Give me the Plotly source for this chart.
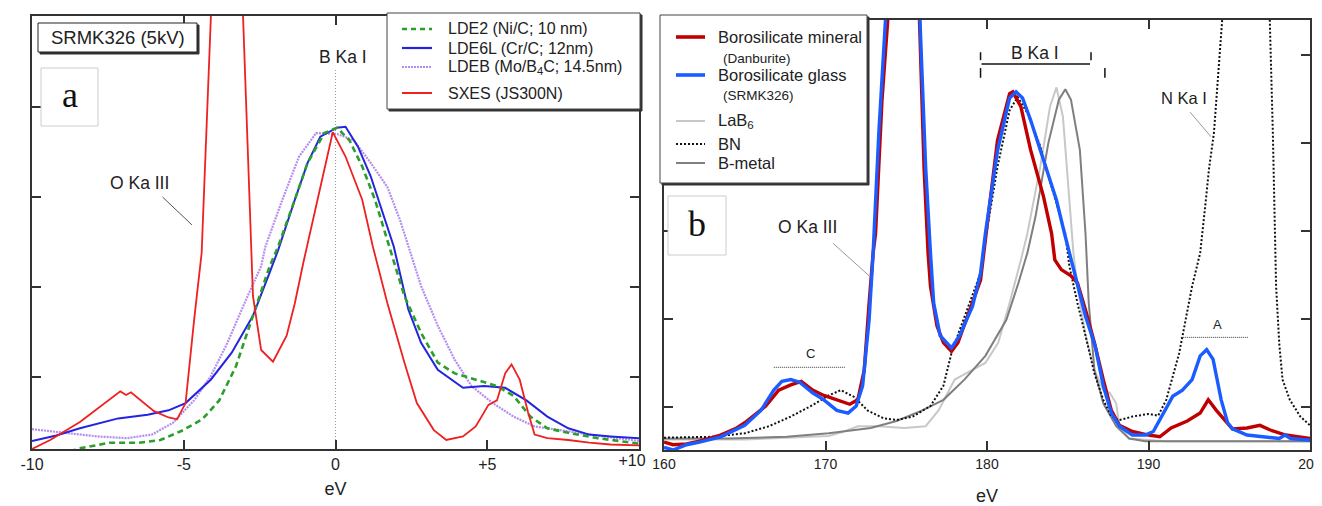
import plotly.graph_objects as go

# The page body has an 8 px margin, so the figure is drawn 8 px in from the window's corner.
OFF = 8
W, H = 1322 - OFF, 506 - OFF

# ---------------- panel (a) data : energy offset (eV) vs intensity (a.u.) ----------------
lde2_x = [-9.0, -8.54, -7.44, -6.47, -5.77, -5.08, -4.39, -3.83, -3.28, -2.86, -2.58, -2.17, -1.89, -1.34,
          -0.92, -0.37, 0.05, 0.46, 0.88, 1.3, 1.71, 1.85, 2.27, 2.82, 3.37, 3.93, 4.62, 5.32, 5.87, 6.42,
          6.98, 7.67, 8.64, 10]
lde2_y = [-0.1, 0.0, 0.07, 0.07, 0.1, 0.2, 0.33, 0.54, 0.92, 1.33, 1.62, 2.03, 2.25, 2.77,
          3.18, 3.51, 3.57, 3.43, 3.14, 2.77, 2.32, 2.18, 1.7, 1.29, 0.96, 0.84, 0.77, 0.70, 0.59, 0.36,
          0.23, 0.18, 0.12, 0.06]

lde6l_x = [-10, -9.2, -8.42, -7.43, -7.16, -6.19, -5.5, -4.94, -4.11, -3.42, -2.72, -2.17, -1.89, -1.34,
           -0.92, -0.5, 0.05, 0.33, 0.74, 1.16, 1.57, 1.92, 2.4, 2.82, 3.37, 4.2, 4.9, 5.59, 6.29, 6.98,
           7.67, 8.36, 9.06, 10]
lde6l_y = [0.09, 0.15, 0.23, 0.32, 0.34, 0.38, 0.43, 0.51, 0.77, 1.07, 1.48, 1.96, 2.21, 2.77,
           3.18, 3.47, 3.57, 3.58, 3.36, 3.03, 2.62, 2.25, 1.55, 1.18, 0.88, 0.68, 0.70, 0.68, 0.54, 0.36,
           0.23, 0.16, 0.14, 0.12]

ldeb_x = [-10, -8.96, -7.85, -6.88, -6.05, -5.36, -4.66, -4.11, -3.56, -3.0, -2.45, -2.31, -1.75, -1.2,
          -0.64, 0.05, 0.6, 1.16, 1.71, 2.13, 2.47, 2.82, 3.37, 3.93, 4.48, 5.18, 5.87, 6.56, 7.4, 8.36, 10]
ldeb_y = [0.22, 0.18, 0.14, 0.12, 0.16, 0.29, 0.54, 0.81, 1.18, 1.62, 2.03, 2.25, 2.77, 3.25,
          3.51, 3.5, 3.43, 3.18, 2.91, 2.54, 2.18, 1.81, 1.37, 0.99, 0.70, 0.51, 0.36, 0.25, 0.21, 0.16, 0.09]

sxes_x = [-10, -9.4, -8.42, -7.76, -7.09, -6.9, -6.74, -5.98, -5.5, -5.22, -4.94, -4.66, -4.41, -3.55,
          -2.79, -2.72, -2.45, -2.06, -1.61, -1.34, -1.06, -0.5, -0.09, 0.33, 0.88, 1.23, 1.71, 2.27,
          2.68, 3.24, 3.65, 4.2, 4.62, 5.04, 5.32, 5.59, 5.8, 6.07, 6.35, 6.56, 6.98, 7.67, 8.36, 9.06, 10]
sxes_y = [0.0, 0.1, 0.3, 0.47, 0.64, 0.6, 0.63, 0.42, 0.35, 0.33, 0.51, 1.43, 2.18, 9.6,
          2.18, 1.7, 1.1, 0.97, 1.26, 1.62, 2.07, 2.91, 3.52, 3.25, 2.77, 2.25, 1.62, 0.96,
          0.51, 0.21, 0.1, 0.14, 0.25, 0.49, 0.54, 0.84, 0.94, 0.77, 0.40, 0.16, 0.12, 0.1, 0.07, 0.05, 0.04]

# ---------------- panel (b) data : emission energy (eV) vs intensity (a.u.) ----------------
mineral_x = [160, 160.56, 161.4, 162.2, 163.5, 164.5, 165.0, 166.3, 167.1, 167.85, 168.5, 169.2, 169.9,
             170.7, 171.5, 172.0, 172.4, 172.7, 172.95, 173.1, 173.5, 173.9, 174.4, 174.85, 175.3, 175.8,
             176.1, 176.35, 176.5, 176.9, 177.3, 177.8, 178.2, 178.8, 179.6, 179.9, 180.65, 181.4, 181.6,
             182.1, 182.7, 183.5, 184.0, 184.2, 184.6, 185.2, 185.6, 186.1, 186.65, 187.2, 187.7, 188.2,
             189.0, 190.0, 190.7, 191.4, 192.4, 193.2, 193.7, 194.2, 194.85, 195.2, 196.1, 196.9, 197.5,
             198.5, 200]
mineral_y = [0.09, 0.06, 0.07, 0.10, 0.17, 0.25, 0.31, 0.50, 0.68, 0.74, 0.78, 0.68, 0.62,
             0.57, 0.52, 0.57, 0.91, 1.67, 2.24, 2.46, 3.98, 5.0, 7.5, 8.5, 7.5, 5.0,
             3.22, 2.24, 1.86, 1.41, 1.22, 1.12, 1.22, 1.52, 1.93, 2.39, 3.52, 4.05, 4.07,
             3.9, 3.41, 2.88, 2.46, 2.16, 2.05, 1.98, 1.9, 1.59, 1.22, 0.8, 0.45, 0.28,
             0.21, 0.17, 0.15, 0.25, 0.33, 0.42, 0.57, 0.45, 0.31, 0.24, 0.25, 0.28, 0.23,
             0.17, 0.13]

glass_x = [160, 160.56, 161.4, 162.2, 163.5, 164.5, 165.0, 166.0, 166.8, 167.3, 167.85, 168.4, 169.2,
           169.9, 170.7, 171.4, 171.9, 172.3, 172.7, 172.95, 173.3, 173.75, 174.3, 174.8, 175.3, 175.85,
           176.2, 176.5, 176.7, 177.1, 177.8, 178.3, 179.1, 179.6, 179.9, 180.65, 181.4, 181.8, 182.2,
           182.7, 183.5, 184.3, 184.8, 185.2, 185.6, 186.1, 186.7, 187.2, 187.7, 188.2, 189.0, 189.8,
           190.3, 190.8, 191.5, 192.1, 192.7, 193.2, 193.6, 194.0, 194.5, 194.9, 195.2, 196.1, 197.3,
           198.1, 198.45, 198.8, 200]
glass_y = [0.03, 0.0, 0.06, 0.09, 0.15, 0.23, 0.28, 0.45, 0.68, 0.78, 0.80, 0.77, 0.65,
           0.57, 0.45, 0.42, 0.50, 0.73, 1.48, 2.24, 3.6, 5.0, 7.5, 8.5, 7.5, 5.0,
           3.22, 2.24, 1.67, 1.3, 1.16, 1.3, 1.63, 2.01, 2.46, 3.4, 4.0, 4.07, 4.0,
           3.75, 3.3, 2.84, 2.46, 2.16, 1.86, 1.52, 1.18, 0.73, 0.42, 0.27, 0.17, 0.17,
           0.21, 0.38, 0.61, 0.68, 0.8, 1.07, 1.14, 1.03, 0.57, 0.31, 0.24, 0.17, 0.15,
           0.13, 0.17, 0.13, 0.11]

lab6_x = [160, 165, 170.2, 171.0, 172.0, 173.3, 174.9, 176.2, 177.0, 178.0, 179.1, 179.9, 180.7, 181.4,
          182.1, 182.5, 183.3, 183.9, 184.3, 184.7, 185.1, 185.35, 185.6, 186.1, 186.65, 187.2, 187.6,
          188.0, 188.2, 188.8, 191.1, 200]
lab6_y = [0.12, 0.12, 0.16, 0.2, 0.27, 0.27, 0.25, 0.27, 0.45, 0.8, 0.91, 0.99, 1.22, 1.67,
          2.16, 2.46, 3.22, 3.9, 4.12, 3.79, 2.84, 2.24, 1.86, 1.3, 0.91, 0.68, 0.65,
          0.53, 0.27, 0.13, 0.1, 0.1]

bn_x = [160, 163, 165.0, 166.5, 167.85, 169.2, 170.2, 170.95, 171.8, 172.6, 173.6, 174.4, 175.4, 176.5,
        177.3, 177.8, 178.3, 179.1, 179.6, 179.9, 180.65, 181.4, 181.9, 182.5, 183.3, 184.0, 184.85, 185.1,
        185.6, 186.1, 186.65, 187.2, 187.7, 188.2, 189.0, 190.0, 190.6, 191.1, 191.9, 192.7, 193.2, 193.5,
        193.75, 194.05, 194.55, 195.3, 196.0, 196.8, 197.5, 197.7, 197.9, 198.1, 198.3, 198.75, 199.4, 200]
bn_y = [0.14, 0.15, 0.19, 0.27, 0.38, 0.51, 0.62, 0.68, 0.6, 0.45, 0.36, 0.34, 0.38, 0.5,
        0.73, 1.1, 1.36, 1.75, 2.01, 2.39, 3.22, 3.86, 4.01, 3.83, 3.45, 2.99, 2.46, 2.09,
        1.67, 1.3, 0.87, 0.57, 0.38, 0.34, 0.38, 0.41, 0.39, 0.57, 1.1, 1.86, 2.24, 2.75,
        3.2, 3.6, 4.95, 7.5, 8.5, 7.5, 4.95, 3.6, 1.86, 1.2, 0.8, 0.57, 0.38, 0.28]

bmetal_x = [160, 164, 167.6, 170.2, 172.8, 174.4, 176.0, 177.3, 178.6, 179.9, 181.2, 181.95, 182.5, 183.0,
            183.8, 184.45, 184.85, 185.2, 185.75, 186.1, 186.3, 186.65, 187.2, 188.0, 188.8, 189.8, 200]
bmetal_y = [0.13, 0.13, 0.15, 0.19, 0.25, 0.33, 0.45, 0.57, 0.8, 1.07, 1.48, 1.9, 2.24, 2.65,
            3.49, 3.98, 4.1, 3.98, 3.41, 2.46, 1.67, 0.91, 0.53, 0.27, 0.13, 0.1, 0.1]

a_ticks = [-10, -5, 0, 5]
a_ticktext = ["-10", "-5", "0", "+5"]      # "+10" is drawn slightly left of the axis end (see xaxis3)
b_ticks = [160, 170, 180, 190, 200]
b_ticktext = ["160", "170", "180", "190", "200"]

FONT = "Liberation Sans, Arial, sans-serif"
SERIF = "Liberation Serif, Times New Roman, serif"
TXT = "#222222"
AX = "#333333"

C_GREEN, C_BLUE, C_VIOLET, C_RED = "#2a9f2a", "#2424e0", "#b58cf0", "#ee2020"
C_MIN, C_GLASS, C_LAB6, C_BN, C_BM = "#c00000", "#1a5cff", "#c8c8c8", "#111111", "#7f7f7f"


def PX(x):
    """window pixel x -> paper fraction"""
    return (x - OFF) / W


def PY(y):
    """window pixel y -> paper fraction"""
    return 1 - (y - OFF) / H


fig = go.Figure()


def add_line(x, y, color, width, dash, panel):
    fig.add_trace(go.Scatter(
        x=x, y=y, mode="lines",
        line=dict(color=color, width=width, dash=dash),
        xaxis="x" if panel == 1 else "x2", yaxis="y" if panel == 1 else "y2",
        showlegend=False, hoverinfo="skip"))


add_line(ldeb_x, ldeb_y, C_VIOLET, 2.2, "2px,1px", 1)
add_line(lde6l_x, lde6l_y, C_BLUE, 2, "solid", 1)
add_line(lde2_x, lde2_y, C_GREEN, 2.6, "6px,4px", 1)
add_line(sxes_x, sxes_y, C_RED, 1.8, "solid", 1)

add_line(lab6_x, lab6_y, C_LAB6, 2, "solid", 2)
add_line(bmetal_x, bmetal_y, C_BM, 2, "solid", 2)
add_line(bn_x, bn_y, C_BN, 2, "2px,2px", 2)
add_line(mineral_x, mineral_y, C_MIN, 3.4, "solid", 2)
add_line(glass_x, glass_y, C_GLASS, 3.4, "solid", 2)

# empty trace so the label-only overlay axis exists
fig.add_trace(go.Scatter(x=[], y=[], xaxis="x3", yaxis="y", showlegend=False, hoverinfo="skip"))

axis_common = dict(showline=True, linecolor=AX, linewidth=1.5, mirror="ticks", ticks="inside",
                   ticklen=9, tickwidth=1.5, tickcolor=AX, showgrid=False, zeroline=False)

fig.update_layout(
    width=W, height=H, margin=dict(l=0, r=0, t=0, b=0, autoexpand=False),
    showlegend=False,
    paper_bgcolor="white", plot_bgcolor="white",
    font=dict(family=FONT, color=TXT),
    xaxis=dict(domain=[PX(32), PX(639)], range=[-10, 10], tickvals=a_ticks, ticktext=a_ticktext,
               tickfont=dict(size=16, color=TXT), anchor="y", automargin=False,
               title=dict(text="eV", font=dict(size=18, color=TXT), standoff=10), **axis_common),
    xaxis3=dict(overlaying="x", anchor="y", side="bottom", range=[-10, 10], tickvals=[9.77],
                ticktext=["+10"], ticks="", showline=False, showgrid=False, zeroline=False,
                tickfont=dict(size=16, color=TXT), automargin=False),
    yaxis=dict(domain=[PY(449), PY(16)], range=[0, 433 / 90], tickvals=[0.8, 1.8, 2.8, 3.8],
               showticklabels=False, anchor="x", automargin=False, **axis_common),
    xaxis2=dict(domain=[PX(664), PX(1310)], range=[160, 200], tickvals=b_ticks, ticktext=b_ticktext,
                tickfont=dict(size=14, color=TXT), anchor="y2", automargin=False,
                title=dict(text="eV", font=dict(size=18, color=TXT), standoff=20), **axis_common),
    yaxis2=dict(domain=[PY(450), PY(20)], range=[0, 430 / 88],
                tickvals=[0.489, 1.489, 2.489, 3.489, 4.489],
                showticklabels=False, anchor="x2", automargin=False, **axis_common),
)

shapes = []
ann = []

# ---- panel (a) decorations (data coordinates) ----
shapes.append(dict(type="line", xref="x", yref="y", x0=0, x1=0, y0=0, y1=4.21,
                   line=dict(color="#999999", width=1, dash="1px,2px"), layer="below"))
shapes.append(dict(type="line", xref="x", yref="y", x0=-5.7, y0=2.8, x1=-4.73, y1=2.49,
                   line=dict(color="#555555", width=1)))
ann.append(dict(xref="x", yref="y", x=0.26, y=4.36, text="B Ka I", showarrow=False,
                font=dict(size=17.5, color=TXT)))
ann.append(dict(xref="x", yref="y", x=-6.47, y=2.96, text="O Ka III", showarrow=False,
                font=dict(size=17.5, color=TXT)))

# ---- panel (b) decorations (data coordinates) ----
shapes.append(dict(type="line", xref="x2", yref="y2", x0=170.46, y0=2.35, x1=172.7, y1=1.98,
                   line=dict(color="#999999", width=1)))
shapes.append(dict(type="line", xref="x2", yref="y2", x0=192.57, y0=3.84, x1=193.87, y1=3.56,
                   line=dict(color="#999999", width=1)))
bk = dict(color="#111111", width=1.5)
shapes += [
    dict(type="line", xref="x2", yref="y2", x0=179.66, x1=186.38, y0=4.386, y1=4.386, line=bk),
    dict(type="line", xref="x2", yref="y2", x0=179.6, x1=179.6, y0=4.43, y1=4.52, line=bk),
    dict(type="line", xref="x2", yref="y2", x0=186.44, x1=186.44, y0=4.43, y1=4.52, line=bk),
    dict(type="line", xref="x2", yref="y2", x0=179.6, x1=179.6, y0=4.23, y1=4.34, line=bk),
    dict(type="line", xref="x2", yref="y2", x0=187.3, x1=187.3, y0=4.23, y1=4.34, line=bk),
]
shapes.append(dict(type="line", xref="x2", yref="y2", x0=166.8, x1=171.25, y0=0.94, y1=0.94,
                   line=dict(color="#333333", width=1, dash="1px,1px")))
shapes.append(dict(type="line", xref="x2", yref="y2", x0=192.0, x1=196.2, y0=1.28, y1=1.28,
                   line=dict(color="#333333", width=1, dash="1px,1px")))
ann += [
    dict(xref="x2", yref="y2", x=182.97, y=4.51, text="B Ka I", showarrow=False, font=dict(size=17.5, color=TXT)),
    dict(xref="x2", yref="y2", x=168.9, y=2.53, text="O Ka III", showarrow=False, font=dict(size=17.5, color=TXT)),
    dict(xref="x2", yref="y2", x=192.2, y=4.0, text="N Ka I", showarrow=False, font=dict(size=16.5, color=TXT)),
    dict(xref="x2", yref="y2", x=169.1, y=1.1, text="C", showarrow=False, font=dict(size=13, color=TXT)),
    dict(xref="x2", yref="y2", x=194.25, y=1.43, text="A", showarrow=False, font=dict(size=13, color=TXT)),
]


# ---- paper-space boxes (legends, labels) ----
def rect(x0, y0, x1, y1, fill, color, width=1):
    shapes.append(dict(type="rect", xref="paper", yref="paper", x0=PX(x0), x1=PX(x1), y0=PY(y1), y1=PY(y0),
                       fillcolor=fill, line=dict(color=color, width=width), layer="above"))


def seg(x0, x1, y, color, width, dash="solid"):
    shapes.append(dict(type="line", xref="paper", yref="paper", x0=PX(x0), x1=PX(x1), y0=PY(y), y1=PY(y),
                       line=dict(color=color, width=width, dash=dash), layer="above"))


def text(x, y, s, size, xanchor="left", family=FONT, color=TXT):
    ann.append(dict(xref="paper", yref="paper", x=PX(x), y=PY(y), text=s, showarrow=False,
                    xanchor=xanchor, yanchor="middle", font=dict(size=size, family=family, color=color)))


# SRMK326 label box with shadow
rect(40, 25, 199, 54, "#333333", "#333333")
rect(38, 23, 197, 52, "white", "#222222")
text(117.5, 38, "SRMK326 (5kV)", 18.5, xanchor="center")

# panel letters
rect(41, 68, 98, 126, "white", "#cccccc")
text(69.5, 95, "a", 36, xanchor="center", family=SERIF, color="#111111")
rect(668, 196, 726, 255, "white", "#cccccc")
text(697, 224, "b", 36, xanchor="center", family=SERIF, color="#111111")

# legend (a)
rect(389, 15, 642, 111, "#333333", "#333333")
rect(387, 13, 640, 109, "white", "#444444")
leg_a = [("LDE2 (Ni/C; 10 nm)", C_GREEN, 2.6, "5px,4px", 29),
         ("LDE6L (Cr/C; 12nm)", C_BLUE, 2.2, "solid", 48),
         ("LDEB (Mo/B<sub>4</sub>C; 14.5nm)", C_VIOLET, 2.2, "2px,1px", 67),
         ("SXES (JS300N)", C_RED, 2, "solid", 93)]
for name, col, lw, dash, yy in leg_a:
    seg(402, 432, yy, col, lw, dash)
    text(446, yy, name, 16)

# legend (b)
rect(662, 17, 869, 185, "#333333", "#333333")
rect(660, 15, 867, 183, "white", "#444444")
leg_b = [("Borosilicate mineral", C_MIN, 3.6, "solid", 37),
         ("Borosilicate glass", C_GLASS, 3.6, "solid", 75),
         ("LaB<sub>6</sub>", C_LAB6, 2, "solid", 121),
         ("BN", C_BN, 2, "2px,2px", 144),
         ("B-metal", C_BM, 2, "solid", 163)]
for name, col, lw, dash, yy in leg_b:
    seg(676, 705, yy, col, lw, dash)
    text(716, yy, name, 16.5)
text(721, 58, "(Danburite)", 13.5)
text(721, 96, "(SRMK326)", 13.5)

fig.update_layout(shapes=shapes, annotations=ann)
fig.write_html("out.html")
